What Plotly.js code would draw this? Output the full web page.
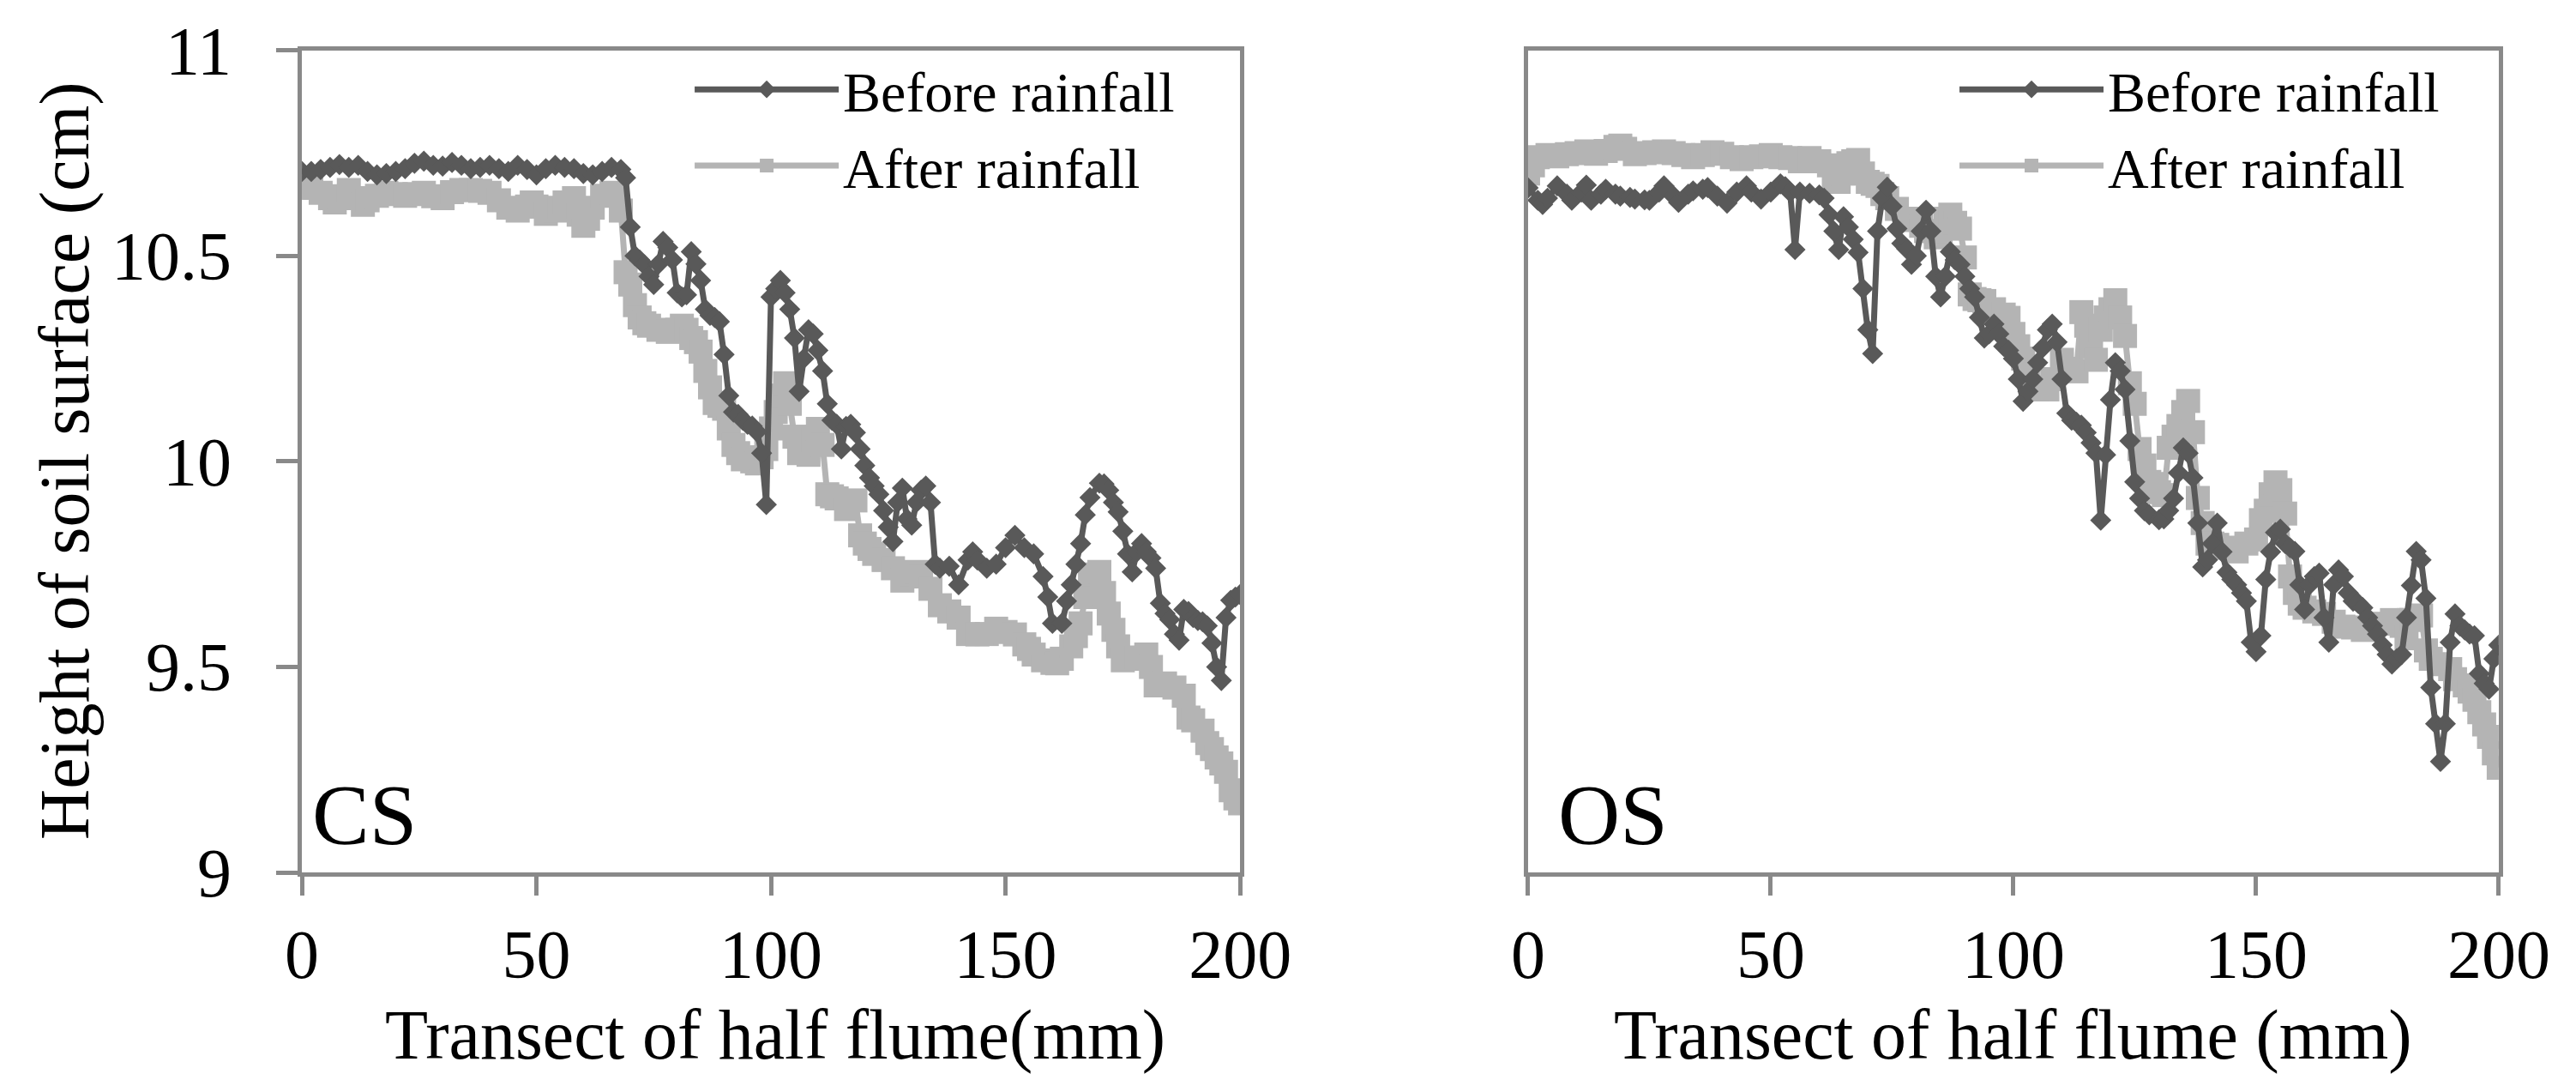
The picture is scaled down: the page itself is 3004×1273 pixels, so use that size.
<!DOCTYPE html>
<html>
<head>
<meta charset="utf-8">
<script src="https://cdn.plot.ly/plotly-3.0.1.min.js"></script>
<style>
html,body{margin:0;padding:0;background:#fff}
#chart{width:3004px;height:1273px}
</style>
</head>
<body>
<div id="chart"></div>
<script>
// CS panel, before rainfall
let csBeforeX = [0,2,4,6,8,10,12,14,16,18,20,22,24,26,28,30,32,34,36,38,40,42,44,46,48,50,52,54,56,58,60,62,64,66,68,69,70,71,72,73,74,75,76,77,78,79,80,81,82,83,84,85,86,87,88,89,90,91,92,93,94,95,96,97,98,99,100,101,102,103,104,105,106,107,108,109,110,111,112,113,114,115,116,117,118,119,120,121,122,123,124,125,126,127,128,129,130,131,132,133,134,135,136,138,140,142,143,144,146,148,150,152,154,156,158,159,160,162,163,164,165,166,167,168,170,171,172,173,174,175,176,177,178,179,180,181,182,183,184,185,186,187,188,189,190,191,192,193,194,195,196,197,198,199,200]
let csBeforeY = [10.705,10.705,10.71,10.715,10.722,10.715,10.72,10.705,10.697,10.70,10.705,10.712,10.725,10.73,10.72,10.718,10.727,10.72,10.712,10.715,10.72,10.712,10.705,10.72,10.71,10.697,10.712,10.72,10.715,10.712,10.70,10.697,10.705,10.715,10.71,10.69,10.57,10.50,10.49,10.478,10.45,10.43,10.48,10.535,10.52,10.49,10.41,10.40,10.405,10.51,10.48,10.44,10.37,10.355,10.35,10.34,10.26,10.16,10.12,10.114,10.10,10.09,10.086,10.072,10.02,9.895,10.40,10.42,10.44,10.41,10.37,10.30,10.17,10.25,10.32,10.31,10.27,10.22,10.14,10.10,10.09,10.03,10.085,10.09,10.07,10.03,9.99,9.96,9.94,9.92,9.88,9.84,9.805,9.90,9.935,9.86,9.845,9.90,9.93,9.94,9.90,9.75,9.74,9.745,9.70,9.76,9.78,9.76,9.74,9.75,9.79,9.82,9.79,9.775,9.72,9.67,9.606,9.606,9.66,9.70,9.75,9.80,9.87,9.912,9.947,9.945,9.93,9.90,9.877,9.83,9.775,9.731,9.78,9.80,9.78,9.765,9.74,9.655,9.63,9.615,9.58,9.565,9.64,9.635,9.62,9.613,9.61,9.60,9.558,9.50,9.467,9.62,9.662,9.67,9.676]

// CS panel, after rainfall
let csAfterX = [0,2,4,6,7,8,10,12,13,14,16,18,20,22,24,26,28,30,32,34,36,38,40,42,44,46,48,49,50,52,54,55,56,58,59,60,61,62,64,66,67,68,69,70,71,72,73,74,76,78,80,81,82,83,84,85,86,87,88,89,90,91,92,93,94,96,97,98,99,100,101,102,103,104,105,106,108,109,110,111,112,113,114,116,118,119,120,121,122,124,126,128,130,131,132,134,136,138,140,142,144,146,148,150,152,154,155,156,158,160,161,162,164,165,166,167,168,169,170,171,172,173,174,175,176,178,180,181,182,184,186,188,189,190,192,193,194,195,196,197,198,199,200]
let csAfterY = [10.668,10.665,10.653,10.64,10.63,10.645,10.66,10.64,10.624,10.635,10.646,10.653,10.65,10.646,10.65,10.653,10.645,10.64,10.655,10.66,10.66,10.658,10.653,10.635,10.617,10.61,10.62,10.63,10.62,10.602,10.61,10.617,10.63,10.64,10.60,10.573,10.59,10.617,10.646,10.653,10.65,10.61,10.46,10.43,10.38,10.35,10.336,10.33,10.32,10.315,10.32,10.33,10.32,10.30,10.29,10.267,10.22,10.18,10.142,10.135,10.128,10.08,10.04,10.02,10.005,10.00,9.995,10.01,10.03,10.08,10.12,10.16,10.19,10.14,10.06,10.02,10.016,10.05,10.079,10.04,9.92,9.915,9.91,9.884,9.905,9.82,9.80,9.787,9.775,9.76,9.74,9.71,9.725,9.731,9.72,9.69,9.65,9.635,9.62,9.58,9.579,9.58,9.593,9.585,9.579,9.555,9.544,9.53,9.516,9.51,9.509,9.52,9.55,9.575,9.606,9.67,9.718,9.725,9.731,9.68,9.63,9.59,9.55,9.516,9.52,9.523,9.53,9.50,9.455,9.46,9.45,9.43,9.377,9.37,9.345,9.315,9.30,9.28,9.265,9.245,9.20,9.18,9.168]

// OS panel, before rainfall
let osBeforeX = [0,2,3,4,6,8,9,11,12,13,15,16,18,19,21,22,24,25,27,28,30,31,33,34,36,37,39,41,43,45,46,48,50,52,53,54,55,56,58,60,61,62,63,64,65,66,67,68,69,70,71,72,73,74,75,76,77,78,79,80,81,82,83,84,85,86,87,88,89,90,91,92,93,94,95,96,97,98,99,100,101,102,103,104,105,106,107,108,109,110,111,112,113,114,115,116,117,118,119,120,121,122,123,124,125,126,127,128,130,131,132,133,134,135,136,137,138,139,140,141,142,143,144,145,146,147,148,149,150,151,152,153,154,155,156,157,158,159,160,161,162,163,164,165,166,167,168,169,170,171,172,173,174,175,176,177,178,179,180,181,182,183,184,185,186,187,188,189,190,191,192,193,194,195,196,197,198,199,200]
let osBeforeY = [10.665,10.635,10.625,10.64,10.67,10.65,10.635,10.655,10.672,10.635,10.65,10.662,10.65,10.645,10.642,10.638,10.636,10.635,10.655,10.67,10.645,10.63,10.65,10.658,10.662,10.666,10.645,10.628,10.655,10.67,10.655,10.638,10.655,10.675,10.668,10.655,10.515,10.655,10.652,10.648,10.64,10.60,10.56,10.515,10.595,10.57,10.54,10.508,10.42,10.32,10.262,10.56,10.64,10.667,10.62,10.566,10.53,10.517,10.479,10.50,10.56,10.611,10.56,10.45,10.40,10.45,10.51,10.49,10.479,10.45,10.42,10.40,10.35,10.30,10.31,10.334,10.31,10.28,10.27,10.25,10.20,10.146,10.17,10.20,10.24,10.276,10.32,10.334,10.29,10.20,10.117,10.10,10.095,10.088,10.07,10.045,10.02,9.857,10.016,10.15,10.24,10.22,10.175,10.05,9.95,9.91,9.88,9.87,9.858,9.86,9.88,9.91,9.972,10.033,10.02,9.96,9.85,9.743,9.76,9.80,9.85,9.78,9.73,9.713,9.70,9.68,9.66,9.56,9.537,9.576,9.713,9.78,9.827,9.835,9.80,9.79,9.781,9.70,9.64,9.70,9.72,9.728,9.62,9.56,9.70,9.736,9.72,9.68,9.66,9.655,9.644,9.62,9.60,9.58,9.553,9.53,9.507,9.52,9.53,9.62,9.698,9.781,9.76,9.667,9.45,9.362,9.27,9.362,9.56,9.629,9.60,9.59,9.58,9.576,9.484,9.46,9.446,9.52,9.553]

// OS panel, after rainfall
let osAfterX = [0,1,2,4,6,8,10,12,14,16,18,19,20,22,24,26,28,30,32,34,36,38,40,42,44,46,48,50,52,54,56,58,60,62,63,64,65,66,67,68,69,70,71,72,73,74,76,78,79,81,82,84,85,86,87,88,89,90,91,92,93,94,96,98,99,100,101,102,103,104,105,107,108,110,112,113,114,115,116,117,118,119,120,121,122,123,124,125,126,127,128,129,130,131,132,133,134,135,136,137,138,139,140,141,142,144,146,148,150,151,152,153,154,155,156,157,158,159,160,162,164,166,168,170,172,174,176,178,180,181,182,184,185,186,188,190,191,193,194,195,196,197,198,199,200]
let osAfterY = [10.70,10.72,10.74,10.745,10.742,10.747,10.75,10.754,10.748,10.755,10.765,10.768,10.76,10.747,10.75,10.752,10.754,10.75,10.745,10.74,10.745,10.752,10.748,10.74,10.735,10.74,10.742,10.745,10.74,10.738,10.73,10.738,10.73,10.72,10.69,10.68,10.70,10.725,10.73,10.733,10.70,10.68,10.675,10.67,10.65,10.64,10.614,10.59,10.587,10.573,10.56,10.545,10.56,10.59,10.60,10.58,10.566,10.496,10.406,10.395,10.392,10.39,10.37,10.357,10.349,10.31,10.28,10.25,10.21,10.18,10.175,10.175,10.20,10.247,10.225,10.219,10.363,10.33,10.28,10.247,10.32,10.35,10.37,10.392,10.35,10.305,10.19,10.14,10.03,9.99,9.95,9.945,9.925,9.918,10.033,10.06,10.086,10.12,10.147,10.071,9.911,9.85,9.80,9.80,9.797,9.79,9.781,9.80,9.81,9.857,9.88,9.92,9.949,9.93,9.873,9.72,9.68,9.654,9.644,9.635,9.629,9.61,9.598,9.596,9.59,9.598,9.605,9.614,9.60,9.57,9.614,9.625,9.54,9.52,9.507,9.495,9.47,9.455,9.44,9.42,9.39,9.36,9.33,9.29,9.255]

let xTicks = [0,50,100,150,200]
let yTicks = [9,9.5,10,10.5,11]
let seriesNames = ["Before rainfall","After rainfall"]

let serif = "Liberation Serif, Times New Roman, serif"
let frameGray = "#898989"
let darkGray = "#595959"
let lightGray = "#b4b4b4"

function afterTrace(x,y,xa,ya,leg){
return {x:x,y:y,xaxis:xa,yaxis:ya,type:"scatter",mode:"lines+markers",
name:seriesNames[1],legend:leg,legendrank:2,
line:{color:lightGray,width:7},
marker:{symbol:"square",size:28,color:lightGray}}
}

function beforeTrace(x,y,xa,ya,leg){
return {x:x,y:y,xaxis:xa,yaxis:ya,type:"scatter",mode:"lines+markers",
name:seriesNames[0],legend:leg,legendrank:1,
line:{color:darkGray,width:7},
marker:{symbol:"diamond",size:19,color:darkGray}}
}

let data = [
afterTrace(csAfterX,csAfterY,"x","y","legend"),
beforeTrace(csBeforeX,csBeforeY,"x","y","legend"),
afterTrace(osAfterX,osAfterY,"x2","y2","legend2"),
beforeTrace(osBeforeX,osBeforeY,"x2","y2","legend2")
]

function xAxis(domain,anchor){
return {domain:domain,anchor:anchor,range:[0,200],tickvals:xTicks,
showline:true,mirror:true,linecolor:frameGray,linewidth:5,
ticks:"outside",ticklen:22,tickwidth:5,tickcolor:frameGray,
ticklabelstandoff:0,
tickfont:{family:serif,size:80,color:"#000"},
showgrid:false,zeroline:false,fixedrange:true}
}

function yAxis(domain,anchor,labels){
return {domain:domain,anchor:anchor,range:[9,11],tickvals:yTicks,
showline:true,mirror:true,linecolor:frameGray,linewidth:5,
ticks:labels?"outside":"",ticklen:25,tickwidth:5,tickcolor:frameGray,
showticklabels:labels,ticklabelstandoff:36,
tickfont:{family:serif,size:80,color:"#000"},
showgrid:false,zeroline:false,fixedrange:true}
}

let yDom = [0.201,0.954]

let legendFont = {family:serif,size:66,color:"#000"}

let layout = {
width:3004,height:1273,
margin:{l:0,r:0,t:0,b:0},
paper_bgcolor:"#fff",plot_bgcolor:"#fff",
xaxis:xAxis([0.1172,0.4814],"y"),
yaxis:yAxis(yDom,"x",true),
xaxis2:xAxis([0.5932,0.9700],"y2"),
yaxis2:yAxis(yDom,"x2",false),
legend:{x:0.268,y:0.957,xanchor:"left",yanchor:"top",bgcolor:"rgba(0,0,0,0)",
font:legendFont,itemwidth:168,tracegroupgap:0},
legend2:{x:0.759,y:0.957,xanchor:"left",yanchor:"top",bgcolor:"rgba(0,0,0,0)",
font:legendFont,itemwidth:168,tracegroupgap:0},
annotations:[
{text:"CS",xref:"paper",yref:"paper",x:0.1415,y:0.2545,xanchor:"center",yanchor:"middle",showarrow:false,font:{family:serif,size:100,color:"#000"}},
{text:"OS",xref:"paper",yref:"paper",x:0.626,y:0.2545,xanchor:"center",yanchor:"middle",showarrow:false,font:{family:serif,size:100,color:"#000"}},
{text:"Transect of half flume(mm)",xref:"paper",yref:"paper",x:0.3009,y:0.052,xanchor:"center",yanchor:"middle",showarrow:false,font:{family:serif,size:82,color:"#000"}},
{text:"Transect of half flume (mm)",xref:"paper",yref:"paper",x:0.7816,y:0.052,xanchor:"center",yanchor:"middle",showarrow:false,font:{family:serif,size:82,color:"#000"}},
{text:"Height of soil surface (cm)",xref:"paper",yref:"paper",x:0.0253,y:0.5774,xanchor:"center",yanchor:"middle",textangle:-90,showarrow:false,font:{family:serif,size:82,color:"#000"}}
]
}

Plotly.newPlot("chart",data,layout,{displayModeBar:false,staticPlot:true})
</script>
</body>
</html>
